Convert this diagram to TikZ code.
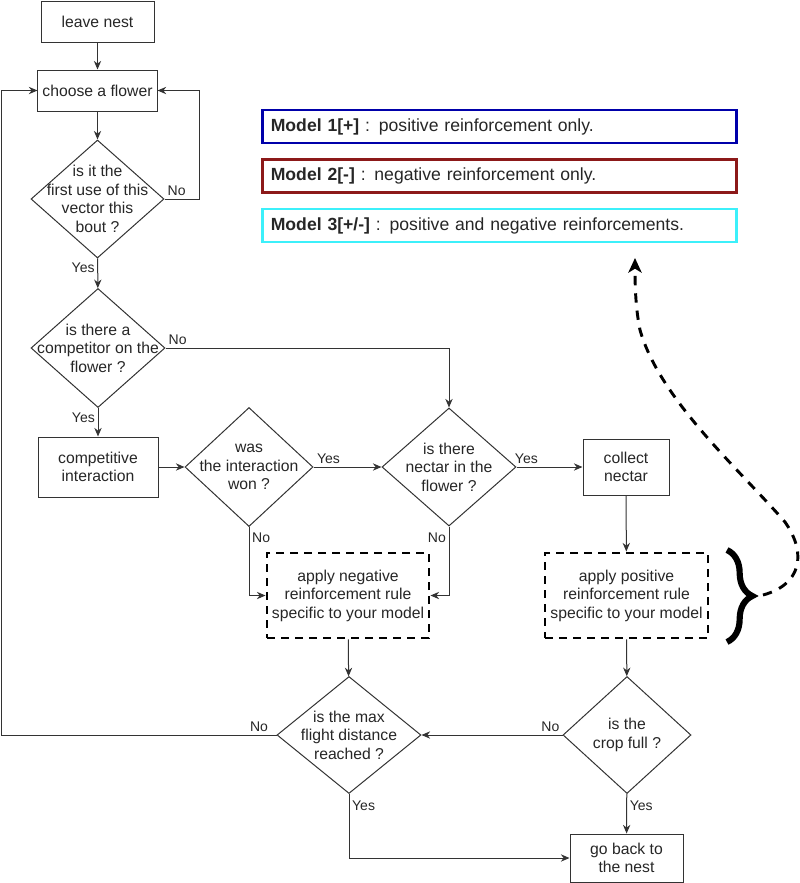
\documentclass[tikz,border=0pt]{standalone}
\usepackage{fontspec}
\setmainfont{Liberation Sans}
\usepackage{tikz}
\usetikzlibrary{shapes.geometric}
\usetikzlibrary{arrows.meta}
\usetikzlibrary{decorations.pathreplacing}

\definecolor{modone}{RGB}{0,0,170}
\definecolor{modtwo}{RGB}{140,25,25}
\definecolor{modthree}{RGB}{60,240,250}
\newcommand{\boxfont}{\fontsize{11.8}{13.9}\selectfont}
\newcommand{\ynfont}{\fontsize{10.5}{12}\selectfont}
\newcommand{\legfont}{\fontsize{13.2}{15}\selectfont}

\begin{document}
\begin{tikzpicture}[x=0.75pt, y=-0.75pt,
    >={Stealth[length=6.5pt, width=5.5pt]},
    every node/.style={text=black!85},
    box/.style={draw=black!80, line width=0.75pt, align=center, font=\boxfont},
    rulebox/.style={draw=black, line width=2.2pt, dash pattern=on 6pt off 4.5pt, align=center, inner xsep=2pt, font=\boxfont},
    dec/.style={diamond, draw=black!80, line width=0.75pt, inner sep=0pt},
    dectext/.style={align=center, font=\boxfont},
    yn/.style={font=\ynfont, inner sep=2pt},
    flow/.style={->, draw=black!80, line width=0.75pt},
    legend/.style={line width=2.2pt, minimum width=356pt, minimum height=24.75pt, text width=343pt, align=left, inner xsep=6pt, font=\legfont}]
\useasboundingbox (0,0) rectangle (800,883);

% legend
\node[legend, draw=modone] (m1) at (499.5,126.5) {\textbf{Model 1[+]} : positive reinforcement only.};
\node[legend, draw=modtwo] (m2) at (499.5,176) {\textbf{Model 2[-]} : negative reinforcement only.};
\node[legend, draw=modthree] (m3) at (499.5,225.5) {\textbf{Model 3[+/-]} : positive and negative reinforcements.};

% flow chart
\node[box, minimum width=84.75pt, minimum height=30.75pt] (nest) at (97.5,21.5) {leave nest};
\node[box, minimum width=89.25pt, minimum height=30.75pt] (choose) at (97.5,90.5) {choose a flower};
\node[dec, minimum width=99.75pt, minimum height=88.5pt,
    label={[dectext]center:{is it the\\first use of this\\vector this\\bout ?}}] (first) at (97.5,199) {};
\node[dec, minimum width=100.5pt, minimum height=89.25pt,
    label={[dectext]center:{is there a\\competitor on the\\flower ?}}] (rival) at (98,348) {};
\node[box, minimum width=90pt, minimum height=45pt] (fight) at (98,467) {competitive\\interaction};
\node[dec, minimum width=96pt, minimum height=89.25pt,
    label={[dectext]center:{was\\the interaction\\won ?}}] (won) at (249,467) {};
\node[dec, minimum width=100.5pt, minimum height=88.5pt,
    label={[dectext]center:{is there\\nectar in the\\flower ?}}] (nectar) at (449,467) {};
\node[box, minimum width=64.5pt, minimum height=42pt] (collect) at (626,467) {collect\\nectar};
\node[rulebox, minimum width=121.5pt, minimum height=63.75pt] (neg) at (348,595.5) {apply negative\\reinforcement rule\\specific to your model};
\node[rulebox, minimum width=122.25pt, minimum height=63.75pt] (pos) at (626.5,595.5) {apply positive\\reinforcement rule\\specific to your model};
\node[dec, minimum width=108pt, minimum height=87.75pt,
    label={[dectext]center:{is the max\\flight distance\\reached ?}}] (dist) at (349,735) {};
\node[dec, minimum width=96pt, minimum height=87.75pt,
    label={[dectext]center:{is the\\crop full ?}}] (crop) at (627,735) {};
\node[box, minimum width=84.75pt, minimum height=36pt] (back) at (626.5,858) {go back to\\the nest};
\coordinate (lft) at (1,735);

\draw[flow] (nest) -- (choose);
\draw[flow] (choose) -- (first);
\draw[flow] (first.east) node[yn, above right] {No} -- ++(35,0) |- (choose.east);
\draw[flow] (first) -- (rival) node[yn, pos=0.33, left] {Yes};
\draw[flow] (rival.east) node[yn, above right] {No} -| (nectar.north);
\draw[flow] (rival) -- (fight) node[yn, pos=0.33, left] {Yes};
\draw[flow] (fight) -- (won);
\draw[flow] (won) -- (nectar) node[yn, pos=0.22, above] {Yes};
\draw[flow] (nectar) -- (collect) node[yn, pos=0.15, above] {Yes};
\draw[flow] (collect) -- (pos);
\draw[flow] (won.south) |- (neg.west) node[yn, pos=0.08, right] {No};
\draw[flow] (nectar.south) |- (neg.east) node[yn, pos=0.08, left] {No};
\draw[flow] (neg) -- (dist);
\draw[flow] (pos) -- (crop);
\draw[flow] (crop) -- (dist) node[yn, pos=0, above left] {No};
\draw[flow] (dist.west) node[yn, above left, xshift=-4pt] {No} -- (lft) |- (choose.west);
\draw[flow] (dist.south) |- (back.west) node[yn, pos=0.09, right] {Yes};
\draw[flow] (crop) -- (back) node[yn, pos=0.3, right] {Yes};

% brace and link to the models
\coordinate (bt1) at (727,550);
\coordinate (bt2) at (727,642);
\coordinate (cs) at (763,595);
\coordinate (ce) at (635,258);
\draw[line width=4.6pt, decorate, decoration={brace, amplitude=19pt}] (bt1) -- (bt2);
\draw[line width=2.2pt, dash pattern=on 7pt off 6pt, -{Stealth[length=11pt, width=10pt, inset=3pt]}]
    (cs) .. controls (800,585) and (808,555) .. (785,522)
    .. controls (740,470) and (660,400) .. (640,330)
    .. controls (636,310) and (635,290) .. (ce);
\end{tikzpicture}
\end{document}
